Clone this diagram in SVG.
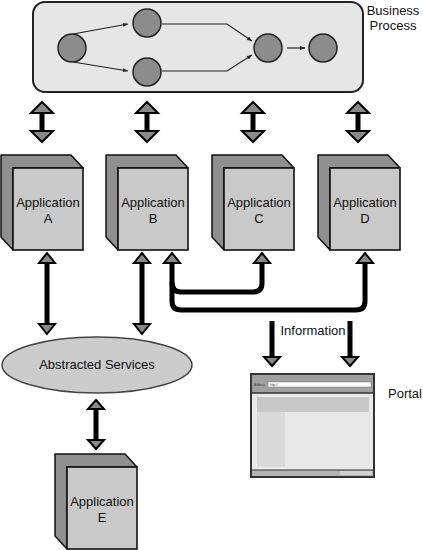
<svg xmlns="http://www.w3.org/2000/svg" width="423" height="550" viewBox="0 0 423 550">
<defs>
<style>
.lbl{font-family:"Liberation Sans",Arial,sans-serif;font-size:13px;fill:#111}
.proc{fill:#8c8c8c;stroke:#222;stroke-width:1.5}
.thin{fill:none;stroke:#222;stroke-width:1.2}
.back{fill:#8f8f8f;stroke:#111;stroke-width:1.5;stroke-linejoin:round}
.front{fill:#c9c9c9;stroke:#111;stroke-width:1.6}
.shaft{fill:none;stroke:#000;stroke-width:5}
.head{fill:#8a8a8a;stroke:#000;stroke-width:2;stroke-linejoin:miter}
.bus{fill:none;stroke:#000;stroke-width:5;stroke-linejoin:round}
</style>
<marker id="sm" viewBox="0 0 10 10" refX="10" refY="5" markerWidth="5" markerHeight="5" orient="auto" markerUnits="userSpaceOnUse">
<path d="M0,1 L10,5 L0,9 Z" fill="#222"/>
</marker>
</defs>
<rect width="423" height="550" fill="#fff"/>

<g id="business-process">
<rect x="33" y="2" width="330" height="90" rx="12" fill="#e6e6e6" stroke="#222" stroke-width="2"/>
<text class="lbl" x="393" y="15" text-anchor="middle">Business</text>
<text class="lbl" x="393" y="30" text-anchor="middle">Process</text>
<g id="proc-arrows">
<path class="thin" d="M73,34 L128,24" marker-end="url(#sm)"/>
<path class="thin" d="M73,62 L128,71" marker-end="url(#sm)"/>
<path class="thin" d="M162,24 L227,24 L252,41" marker-end="url(#sm)"/>
<path class="thin" d="M162,71 L227,71 L252,55" marker-end="url(#sm)"/>
<path class="thin" d="M287,48 L305,48" marker-end="url(#sm)"/>
</g>
<circle class="proc" cx="72" cy="48" r="14"/>
<circle class="proc" cx="147" cy="23" r="14"/>
<circle class="proc" cx="147" cy="72" r="14"/>
<circle class="proc" cx="268" cy="48" r="14"/>
<circle class="proc" cx="323" cy="48" r="14"/>
</g>

<g id="app-a">
<polygon class="back" points="1,155 71,155 83,168 13,168 13,250 1,237"/>
<rect class="front" x="13" y="168" width="70" height="82"/>
<text class="lbl" x="48" y="207" text-anchor="middle">Application</text>
<text class="lbl" x="48" y="223" text-anchor="middle">A</text>
</g>
<g id="app-b">
<polygon class="back" points="106,155 176,155 188,168 118,168 118,250 106,237"/>
<rect class="front" x="118" y="168" width="70" height="82"/>
<text class="lbl" x="153" y="207" text-anchor="middle">Application</text>
<text class="lbl" x="153" y="223" text-anchor="middle">B</text>
</g>
<g id="app-c">
<polygon class="back" points="212,155 282,155 294,168 224,168 224,250 212,237"/>
<rect class="front" x="224" y="168" width="70" height="82"/>
<text class="lbl" x="259" y="207" text-anchor="middle">Application</text>
<text class="lbl" x="259" y="223" text-anchor="middle">C</text>
</g>
<g id="app-d">
<polygon class="back" points="318,155 388,155 400,168 330,168 330,250 318,237"/>
<rect class="front" x="330" y="168" width="70" height="82"/>
<text class="lbl" x="365" y="207" text-anchor="middle">Application</text>
<text class="lbl" x="365" y="223" text-anchor="middle">D</text>
</g>
<g id="app-e">
<polygon class="back" points="55,454 125,454 137,467 67,467 67,549 55,536"/>
<rect class="front" x="67" y="467" width="70" height="82"/>
<text class="lbl" x="102" y="506" text-anchor="middle">Application</text>
<text class="lbl" x="102" y="522" text-anchor="middle">E</text>
</g>

<g id="abstracted-services">
<ellipse cx="97" cy="365" rx="95" ry="28" fill="#cccccc" stroke="#444" stroke-width="1.5"/>
<text class="lbl" x="97" y="369" text-anchor="middle">Abstracted Services</text>
</g>

<g id="portal">
<rect x="251" y="374" width="123" height="103" fill="#e8e8e8" stroke="#333" stroke-width="2"/>
<rect x="252" y="375" width="121" height="18" fill="#a0a0a0"/>
<line x1="251" y1="393" x2="374" y2="393" stroke="#333" stroke-width="1.5"/>
<text x="254" y="386" font-family="Liberation Sans,Arial,sans-serif" font-size="3" fill="#333">Address</text>
<rect x="268" y="382" width="103" height="5" fill="#fff" stroke="#777" stroke-width="0.5"/>
<text x="270" y="386" font-family="Liberation Sans,Arial,sans-serif" font-size="3" fill="#333">http://</text>
<rect x="257" y="397" width="112" height="15" fill="#c8c8c8"/>
<rect x="257" y="412" width="28" height="55" fill="#dadada"/>
<rect x="252" y="470" width="121" height="6" fill="#b4b4b4"/>
<rect x="340" y="471" width="32" height="4" fill="#d0d0d0"/>
<line x1="251" y1="470" x2="374" y2="470" stroke="#333" stroke-width="1.2"/>
<text class="lbl" x="388" y="398">Portal</text>
</g>

<g id="connectors">
<g id="top-arrows">
<line class="shaft" x1="42" y1="112" x2="42" y2="132"/>
<polygon class="head" points="42,102 53,113 31,113"/>
<polygon class="head" points="42,142 53,131 31,131"/>
<line class="shaft" x1="147" y1="112" x2="147" y2="132"/>
<polygon class="head" points="147,102 158,113 136,113"/>
<polygon class="head" points="147,142 158,131 136,131"/>
<line class="shaft" x1="253" y1="112" x2="253" y2="132"/>
<polygon class="head" points="253,102 264,113 242,113"/>
<polygon class="head" points="253,142 264,131 242,131"/>
<line class="shaft" x1="358" y1="112" x2="358" y2="132"/>
<polygon class="head" points="358,102 369,113 347,113"/>
<polygon class="head" points="358,142 369,131 347,131"/>
</g>
<g id="lower-arrows">
<line class="shaft" x1="47" y1="262" x2="47" y2="325"/>
<polygon class="head" points="47,253 55,263 39,263"/>
<polygon class="head" points="47,334 55,324 39,324"/>
<line class="shaft" x1="142" y1="262" x2="142" y2="325"/>
<polygon class="head" points="142,253 150,263 134,263"/>
<polygon class="head" points="142,334 150,324 134,324"/>
<line class="shaft" x1="96" y1="408" x2="96" y2="441"/>
<polygon class="head" points="96,400 104,409 88,409"/>
<polygon class="head" points="96,449 104,440 88,440"/>
</g>
<g id="bus">
<path class="bus" d="M172,262 L172,301 Q172,310 181,310 L356,310 Q365,310 365,301 L365,262"/>
<path class="bus" d="M172,282 Q172,292 181,292 L253,292 Q262,292 262,283 L262,262"/>
<polygon class="head" points="172,253 180,263 164,263"/>
<polygon class="head" points="262,253 270,263 254,263"/>
<polygon class="head" points="365,253 373,263 357,263"/>
</g>
<g id="information">
<line class="shaft" x1="272" y1="321" x2="272" y2="358"/>
<polygon class="head" points="272,366 280,357 264,357"/>
<line class="shaft" x1="350" y1="321" x2="350" y2="358"/>
<polygon class="head" points="350,366 358,357 342,357"/>
<text class="lbl" x="313" y="335" text-anchor="middle">Information</text>
</g>
</g>
</svg>
